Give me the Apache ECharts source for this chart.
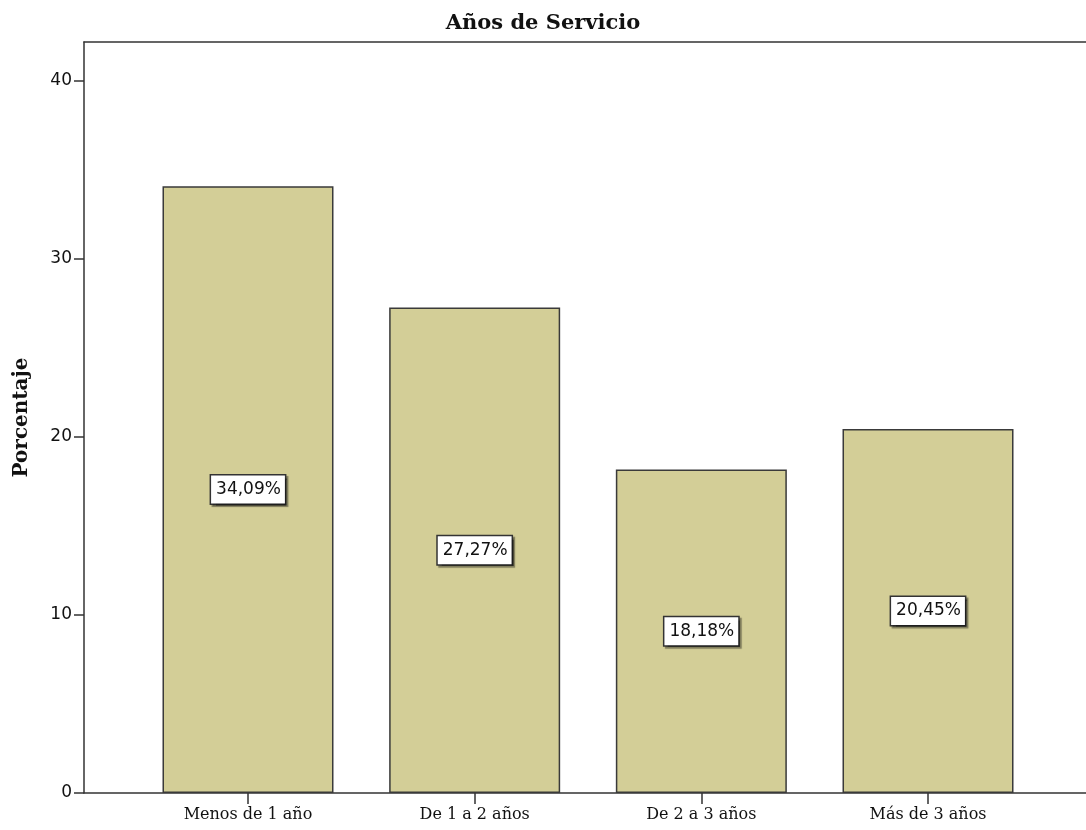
<!DOCTYPE html>
<html>
<head>
<meta charset="utf-8">
<script src="https://cdn.jsdelivr.net/npm/echarts@6/dist/echarts.min.js"></script>
<style>
html,body{margin:0;padding:0;background:#fff;}
#chart{width:1086px;height:830px;}
</style>
</head>
<body>
<div id="chart"></div>
<script>
const titleText = 'Años de Servicio';
const yAxisName = 'Porcentaje';
const categories = ['Menos de 1 año', 'De 1 a 2 años', 'De 2 a 3 años', 'Más de 3 años'];
const percentages = [34.09, 27.27, 18.18, 20.45];
const yTicks = [0, 10, 20, 30, 40];

const chart = echarts.init(document.getElementById('chart'), null, {renderer: 'canvas'});
const barData = percentages.map((v, i) => [i, v]);
const xMin = -0.7235, xMax = 3.697;

chart.setOption({
  animation: false,
  backgroundColor: '#ffffff',
  title: {
    text: titleText,
    left: 'center',
    top: 8,
    textStyle: {fontFamily: 'DejaVu Serif', fontWeight: 'bold', fontSize: 21, color: '#111'}
  },
  grid: {
    left: 84, right: 0, top: 42, bottom: 37, show: false
  },
  xAxis: [{
    type: 'value',
    min: xMin,
    max: xMax,
    splitLine: {show: false},
    axisLine: {show: true, onZero: false, lineStyle: {color: '#333', width: 1.5}},
    axisTick: {show: true, length: 11, customValues: [0, 1, 2, 3], lineStyle: {color: '#333', width: 1.5}},
    axisLabel: {
      customValues: [0, 1, 2, 3],
      formatter: v => categories[Math.round(v)] || '',
      margin: 14,
      fontFamily: 'DejaVu Serif', fontSize: 16, color: '#111'
    }
  }, {
    type: 'value',
    position: 'top',
    min: xMin,
    max: xMax,
    splitLine: {show: false},
    axisLine: {show: true, onZero: false, lineStyle: {color: '#333', width: 1.5}},
    axisTick: {show: false},
    axisLabel: {show: false}
  }],
  yAxis: {
    type: 'value',
    min: 0,
    max: 42.19,
    name: yAxisName,
    nameLocation: 'middle',
    nameRotate: 90,
    nameGap: 52,
    nameTextStyle: {fontFamily: 'DejaVu Serif', fontWeight: 'bold', fontSize: 20, color: '#111'},
    splitLine: {show: false},
    axisLine: {show: true, onZero: false, lineStyle: {color: '#333', width: 1.5}},
    axisTick: {show: true, length: 10, customValues: yTicks, lineStyle: {color: '#333', width: 1.5}},
    axisLabel: {
      customValues: yTicks,
      margin: 12,
      fontFamily: 'DejaVu Sans', fontSize: 17, color: '#111'
    }
  },
  series: [{
    type: 'bar',
    xAxisIndex: 0,
    data: barData,
    barWidth: 171,
    itemStyle: {color: '#d3ce97', borderColor: '#3a3a3a', borderWidth: 1.5},
    label: {
      show: true,
      position: 'inside',
      formatter: p => p.value[1].toFixed(2).replace('.', ',') + '%',
      fontFamily: 'DejaVu Sans', fontSize: 17, color: '#111',
      backgroundColor: '#ffffff',
      borderColor: '#333', borderWidth: 1.5,
      padding: [6, 4, 5, 5],
      shadowColor: 'rgba(0,0,0,0.4)', shadowOffsetX: 2, shadowOffsetY: 2, shadowBlur: 1
    }
  }]
});
</script>
</body>
</html>
